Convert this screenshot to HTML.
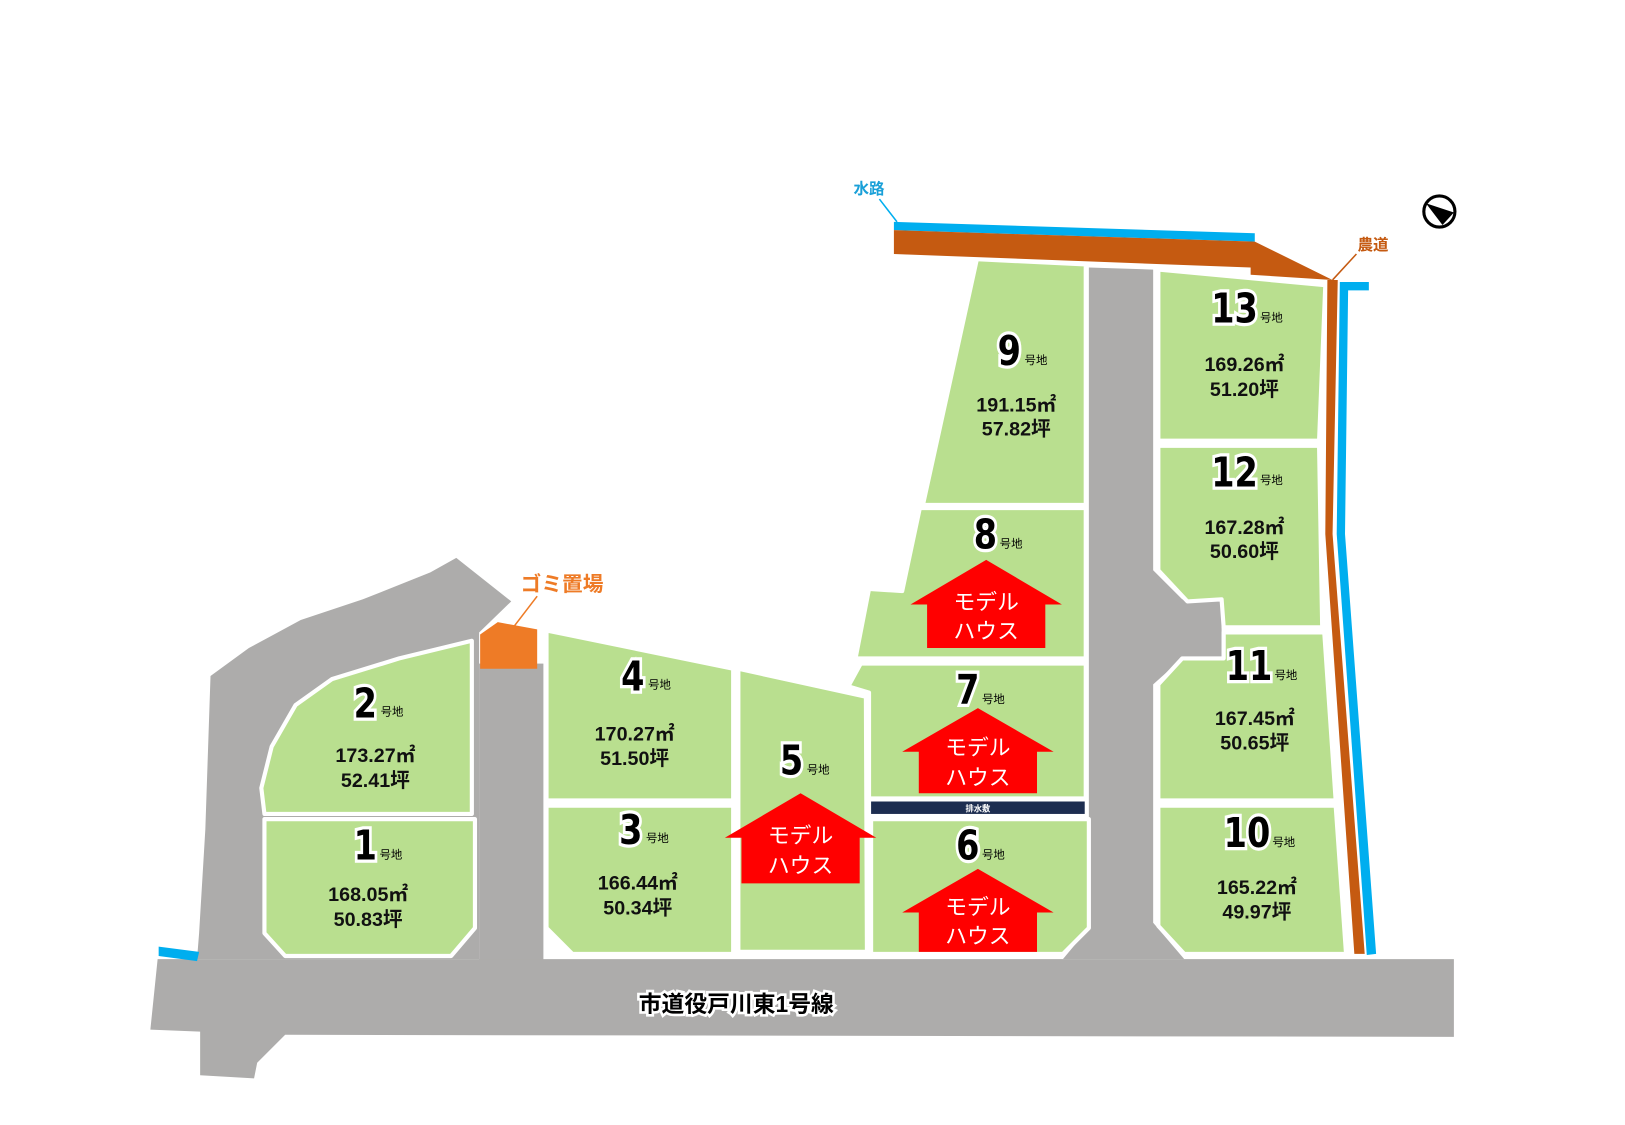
<!DOCTYPE html>
<html><head><meta charset="utf-8"><style>
html,body{margin:0;padding:0;background:#fff;width:1625px;height:1125px;overflow:hidden}
text{font-family:"Liberation Sans","Noto Sans CJK JP",sans-serif;font-weight:bold}
.n{font-size:38px;fill:#000;stroke:#fff;stroke-width:6px;paint-order:stroke;font-family:"DejaVu Sans","Noto Sans CJK JP",sans-serif;font-weight:900}
.g{font-size:11px;fill:#000;font-weight:normal}
.a{font-size:19px;fill:#111;text-anchor:middle}
.m{font-size:21px;fill:#fff;text-anchor:middle;font-weight:normal}
</style></head><body>
<svg width="1625" height="1125" viewBox="0 0 1567 1085" preserveAspectRatio="none" xmlns="http://www.w3.org/2000/svg">
<g fill="#adacab">
<polygon points="203,652 240,625 290,598 350,578 415,552 440,538 493,580 462,610 462,925 190,925 192,900 198,800"/>
<rect x="462" y="640" width="62" height="290"/>
<polygon points="152,925 1402,925 1402,1000 275,998 248,1025 245,1040 193,1037 193,995 145,993"/>
<polygon points="1050,258 1112,260 1112,550 1140,578 1178,578 1178,635 1140,635 1112,660 1112,890 1142,925 1025,925 1050,895"/>
</g>
<g fill="#b9df8f" stroke="#fff" stroke-width="4" stroke-linejoin="round">
<polygon points="255,785 455,785 455,618 385,635 320,655 285,680 262,720 252,760"/>
<polygon points="255,790 458,790 458,895 435,922 275,922 255,900"/>
<polygon points="527,608 707,645 707,772 527,772"/>
<polygon points="527,777 707,777 707,920 552,920 527,895"/>
<polygon points="712,645 835,672 836,918 712,918"/>
<polygon points="942,250 1047,255 1047,487 890,487"/>
<polygon points="887,490 1047,490 1047,635 825,635 838,568 870,570"/>
<polygon points="830,640 1047,640 1047,770 838,770 838,668 818,662"/>
<polygon points="840,790 1050,790 1050,895 1025,920 840,920"/>
<polygon points="1117,260 1278,275 1272,425 1117,425"/>
<polygon points="1117,430 1272,430 1275,605 1180,605 1178,578 1145,580 1117,550"/>
<polygon points="1180,610 1277,610 1288,772 1117,772 1117,660 1140,635 1180,635"/>
<polygon points="1117,777 1288,777 1298,920 1142,920 1117,893"/>
</g>
<polygon points="463,612 480,600 518,607 518,645 463,645" fill="#ee7b26"/>
<rect x="840" y="773" width="206" height="12" fill="#1d2d50"/>
<text x="943" y="782.5" style="font-size:8px;fill:#fff;text-anchor:middle">排水敷</text>
<polygon points="862,214 1210,225 1210,233 862,222" fill="#00aeef"/>
<polygon points="862,222 1210,233 1285,270 1206,265 1206,258 862,245" fill="#c55a11"/>
<polygon points="1280,270 1290,270 1285,515 1316,920 1306,920 1278,515" fill="#c55a11"/>
<polygon points="1292,272 1320,272 1320,280 1300,280 1297,515 1327,920 1318,921 1289,515" fill="#00aeef"/>
<polygon points="153,913 192,918 190,927 153,922" fill="#00aeef"/>
<line x1="848" y1="192" x2="865" y2="214" stroke="#00aeef" stroke-width="1.5"/>
<text x="838" y="187" style="font-size:15px;fill:#1aa0d8;text-anchor:middle">水路</text>
<line x1="1308" y1="245" x2="1285" y2="270" stroke="#c55a11" stroke-width="1.5"/>
<text x="1324" y="241" style="font-size:15px;fill:#c55a11;text-anchor:middle">農道</text>
<line x1="518" y1="575" x2="495" y2="605" stroke="#ee7b26" stroke-width="1.5"/>
<text x="542" y="570" style="font-size:20px;fill:#ee7b26;text-anchor:middle">ゴミ置場</text>
<circle cx="1388" cy="204" r="15" fill="#fff" stroke="#000" stroke-width="3"/>
<polygon points="1375,196 1402,205 1391,217" fill="#000"/>
<g>
<text class="n" transform="translate(341,692) scale(0.85,1.05)">2</text><text class="g" x="367" y="690">号地</text>
<text class="n" transform="translate(341,829) scale(0.85,1.05)">1</text><text class="g" x="366" y="828">号地</text>
<text class="n" transform="translate(599,666) scale(0.85,1.05)">4</text><text class="g" x="625" y="664">号地</text>
<text class="n" transform="translate(597,814) scale(0.85,1.05)">3</text><text class="g" x="623" y="812">号地</text>
<text class="n" transform="translate(752,747) scale(0.85,1.05)">5</text><text class="g" x="778" y="746">号地</text>
<text class="n" transform="translate(962,352) scale(0.85,1.05)">9</text><text class="g" x="988" y="351">号地</text>
<text class="n" transform="translate(939,529) scale(0.85,1.05)">8</text><text class="g" x="964" y="528">号地</text>
<text class="n" transform="translate(922,679) scale(0.85,1.05)">7</text><text class="g" x="947" y="678">号地</text>
<text class="n" transform="translate(922,829) scale(0.85,1.05)">6</text><text class="g" x="947" y="828">号地</text>
<text class="n" transform="translate(1168,311) scale(0.85,1.05)">13</text><text class="g" x="1215" y="310">号地</text>
<text class="n" transform="translate(1168,469) scale(0.85,1.05)">12</text><text class="g" x="1215" y="467">号地</text>
<text class="n" transform="translate(1182,656) scale(0.85,1.05)">11</text><text class="g" x="1229" y="655">号地</text>
<text class="n" transform="translate(1180,817) scale(0.85,1.05)">10</text><text class="g" x="1227" y="816">号地</text>
</g>
<g>
<text class="a" x="362" y="735">173.27㎡</text><text class="a" x="362" y="759">52.41坪</text>
<text class="a" x="355" y="869">168.05㎡</text><text class="a" x="355" y="893">50.83坪</text>
<text class="a" x="612" y="714">170.27㎡</text><text class="a" x="612" y="738">51.50坪</text>
<text class="a" x="615" y="858">166.44㎡</text><text class="a" x="615" y="882">50.34坪</text>
<text class="a" x="980" y="397">191.15㎡</text><text class="a" x="980" y="420">57.82坪</text>
<text class="a" x="1200" y="358">169.26㎡</text><text class="a" x="1200" y="382">51.20坪</text>
<text class="a" x="1200" y="515">167.28㎡</text><text class="a" x="1200" y="538">50.60坪</text>
<text class="a" x="1210" y="699">167.45㎡</text><text class="a" x="1210" y="723">50.65坪</text>
<text class="a" x="1212" y="862">165.22㎡</text><text class="a" x="1212" y="886">49.97坪</text>
</g>
<g fill="#ff0000">
<polygon points="951,540 1024,583 1008,583 1008,625 894,625 894,583 878,583"/>
<polygon points="943,683 1016,725 1000,725 1000,765 886,765 886,725 870,725"/>
<polygon points="772,765 845,808 829,808 829,852 715,852 715,808 699,808"/>
<polygon points="943,838 1016,880 1000,880 1000,918 886,918 886,880 870,880"/>
</g>
<text class="m" x="951" y="588">モデル</text><text class="m" x="951" y="616">ハウス</text>
<text class="m" x="943" y="728">モデル</text><text class="m" x="943" y="757">ハウス</text>
<text class="m" x="772" y="813">モデル</text><text class="m" x="772" y="842">ハウス</text>
<text class="m" x="943" y="882">モデル</text><text class="m" x="943" y="910">ハウス</text>
<text x="710" y="976" style="font-size:22px;fill:#000;stroke:#fff;stroke-width:5px;paint-order:stroke;text-anchor:middle">市道役戸川東1号線</text>
</svg>
</body></html>
